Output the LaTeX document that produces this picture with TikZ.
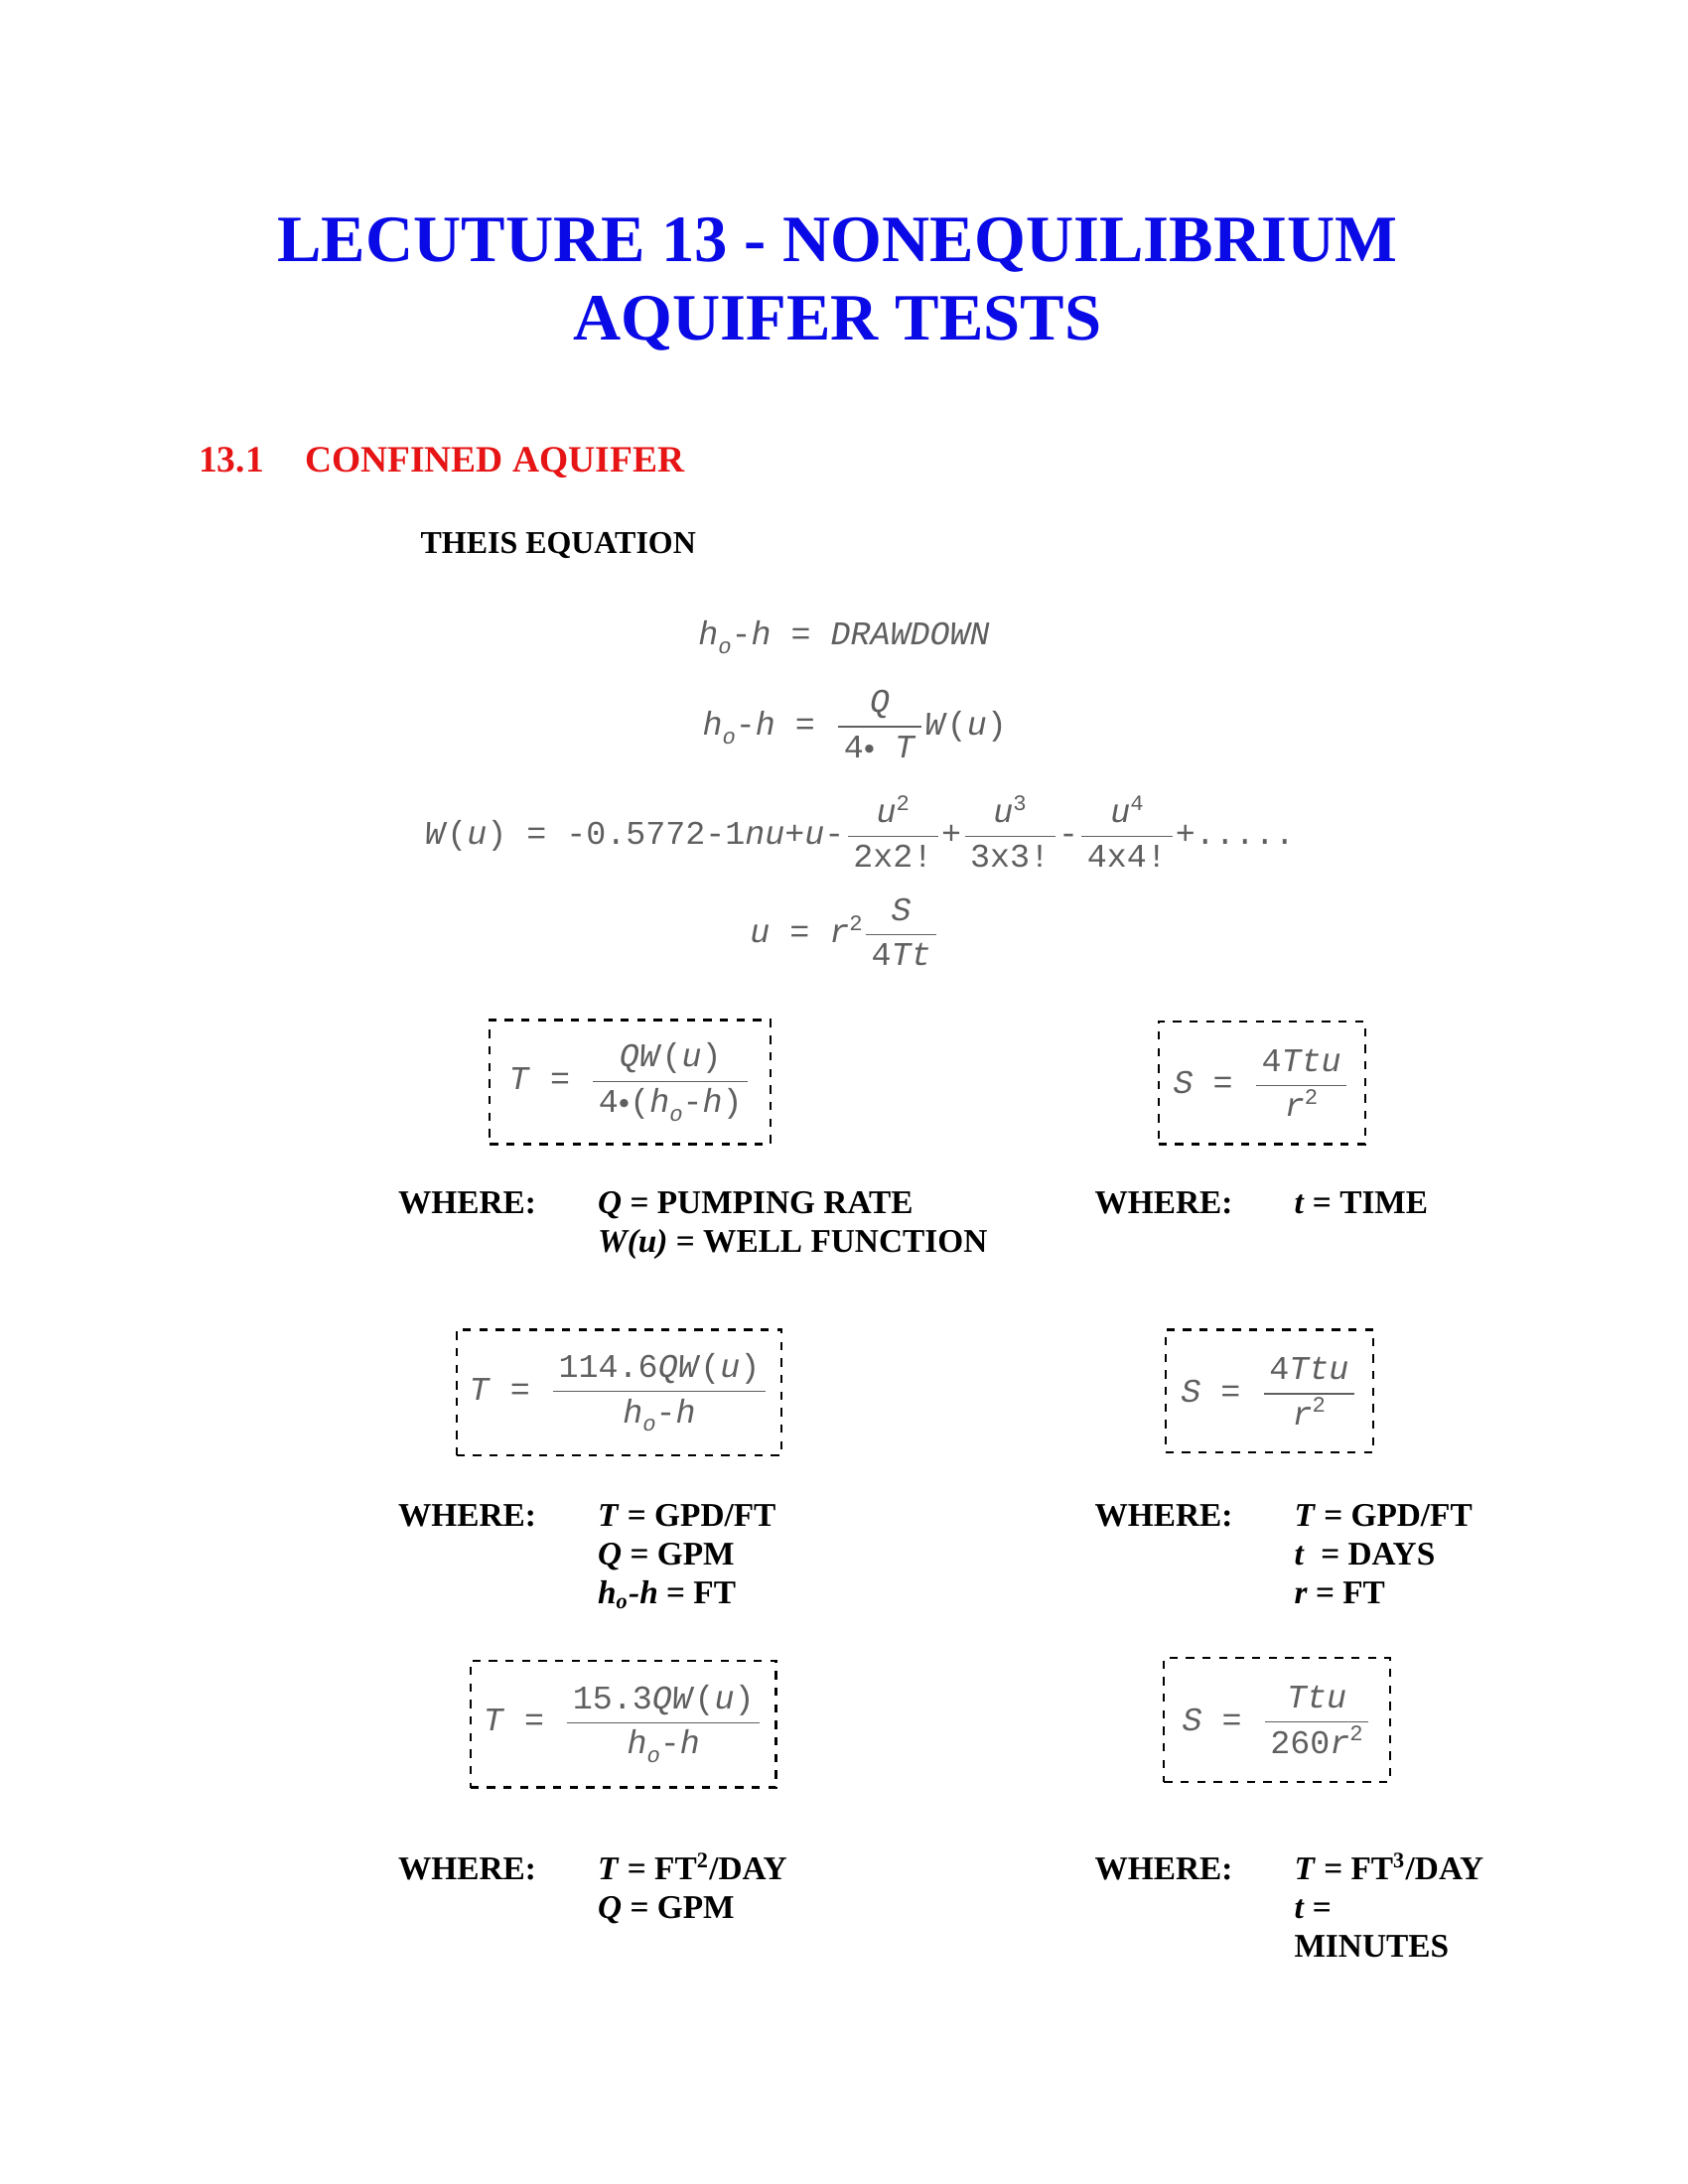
\documentclass[tikz,border=0pt]{standalone}
\usepackage{fontspec}
\setmainfont{Liberation Serif}
\newfontfamily\eqfont{Liberation Mono}
\definecolor{tblue}{RGB}{10,10,230}
\definecolor{tred}{RGB}{230,20,20}
\definecolor{eqg}{RGB}{95,95,95}
\newcommand{\ef}{\eqfont\fontsize{12}{13}\selectfont}
\newcommand{\iv}[1]{\textit{#1}}
\newcommand{\fr}[2]{$\displaystyle\frac{\hbox{\ef\,#1\,}}{\hbox{\ef\,#2\,}}$}
\newcommand{\sbo}{\raisebox{-0.5ex}{\fontsize{8}{9}\selectfont\iv{o}}}
\newcommand{\spw}[1]{\raisebox{0.7ex}{\fontsize{8}{9}\selectfont #1}}
\newcommand{\bu}{\raisebox{0.2ex}{\fontsize{7}{8}\selectfont$\bullet$}}
\newcommand{\wl}[1]{\begin{tabular}[t]{@{}l@{}}#1\end{tabular}}
\begin{document}
\begin{tikzpicture}[x=0.506pt,y=-0.506pt,
 eq/.style={inner sep=0,text=eqg,font=\ef,anchor=west},
 bx/.style={draw,dashed,line width=0.8pt},
 wh/.style={inner sep=0,anchor=base west,font=\fontsize{12}{14}\selectfont\bfseries},
]
\useasboundingbox (0pt,0pt) rectangle (612pt,-792pt);
\begin{scope}[yshift=-3pt]
\node[font=\fontsize{24}{28}\selectfont\bfseries,text=tblue] (t1) at (600,170) {LECUTURE 13 - NONEQUILIBRIUM};
\node[font=\fontsize{24}{28}\selectfont\bfseries,text=tblue] (t2) at (600,226) {AQUIFER TESTS};
\node[font=\fontsize{13.5}{15}\selectfont\bfseries,text=tred,anchor=west,inner sep=0] (s1) at (142,326) {13.1\hspace{1.1em}CONFINED AQUIFER};
\node[font=\fontsize{11.5}{13}\selectfont\bfseries,anchor=west,inner sep=0] (th) at (301,385) {THEIS EQUATION};
\node[eq] (e1) at (500,451) {\iv{h}\sbo-\iv{h} = \iv{DRAWDOWN}};
\node[eq] (e2) at (503,513) {\iv{h}\sbo-\iv{h} = \fr{\iv{Q}}{4\bu\ \iv{T}}\iv{W}(\iv{u})};
\node[eq] (e3) at (304,590) {\iv{W}(\iv{u}) = -0.5772-1\iv{nu}+\iv{u}-\fr{\iv{u}\spw{2}}{2x2!}+\fr{\iv{u}\spw{3}}{3x3!}-\fr{\iv{u}\spw{4}}{4x4!}+.....};
\node[eq] (e4) at (537,662) {\iv{u} = \iv{r}\spw{2}\fr{\iv{S}}{4\iv{Tt}}};
\end{scope}
% boxes
\node[bx,minimum width=201pt*0.506,minimum height=89pt*0.506] (b1) at (451.5,775.5) {};
\node[eq,anchor=center] at (b1) {\iv{T} = \fr{\iv{QW}(\iv{u})}{4\bu(\iv{h}\sbo-\iv{h})}};
\node[bx,minimum width=148pt*0.506,minimum height=88pt*0.506] (b2) at (904,776) {};
\node[eq,anchor=center] at (b2) {\iv{S} = \fr{4\iv{Ttu}}{\iv{r}\spw{2}}};
\node[bx,minimum width=233pt*0.506,minimum height=90pt*0.506] (b3) at (443.5,998) {};
\node[eq,anchor=center] at (b3) {\iv{T} = \fr{114.6\iv{QW}(\iv{u})}{\iv{h}\sbo-\iv{h}}};
\node[bx,minimum width=149pt*0.506,minimum height=88pt*0.506] (b4) at (909.5,997) {};
\node[eq,anchor=center] at (b4) {\iv{S} = \fr{4\iv{Ttu}}{\iv{r}\spw{2}}};
\node[bx,minimum width=219pt*0.506,minimum height=91pt*0.506] (b5) at (446.5,1235.5) {};
\node[eq,anchor=center] at (b5) {\iv{T} = \fr{15.3\iv{QW}(\iv{u})}{\iv{h}\sbo-\iv{h}}};
\node[bx,minimum width=162pt*0.506,minimum height=89pt*0.506] (b6) at (915,1232.5) {};
\node[eq,anchor=center] at (b6) {\iv{S} = \fr{\iv{Ttu}}{260\iv{r}\spw{2}}};
% where
\node[wh] (w1) at (285,870) {WHERE:};
\node[wh] (v1) at (428,870) {\wl{\iv{Q} = PUMPING RATE\\\iv{W(u)} = WELL FUNCTION}};
\node[wh] (w2) at (784,870) {WHERE:};
\node[wh] (v2) at (927,870) {\iv{t} = TIME};
\node[wh] (w3) at (285,1094) {WHERE:};
\node[wh] (v3) at (428,1094) {\wl{\iv{T} = GPD/FT\\\iv{Q} = GPM\\\iv{h\textsubscript{o}-h} = FT}};
\node[wh] (w4) at (784,1094) {WHERE:};
\node[wh] (v4) at (927,1094) {\wl{\iv{T} = GPD/FT\\\iv{t}\ \ = DAYS\\\iv{r} = FT}};
\node[wh] (w5) at (285,1347) {WHERE:};
\node[wh] (v5) at (428,1347) {\wl{\iv{T} = FT\textsuperscript{2}/DAY\\\iv{Q} = GPM}};
\node[wh] (w6) at (784,1347) {WHERE:};
\node[wh] (v6) at (927,1347) {\wl{\iv{T} = FT\textsuperscript{3}/DAY\\\iv{t} =\\MINUTES}};
\end{tikzpicture}
\end{document}
